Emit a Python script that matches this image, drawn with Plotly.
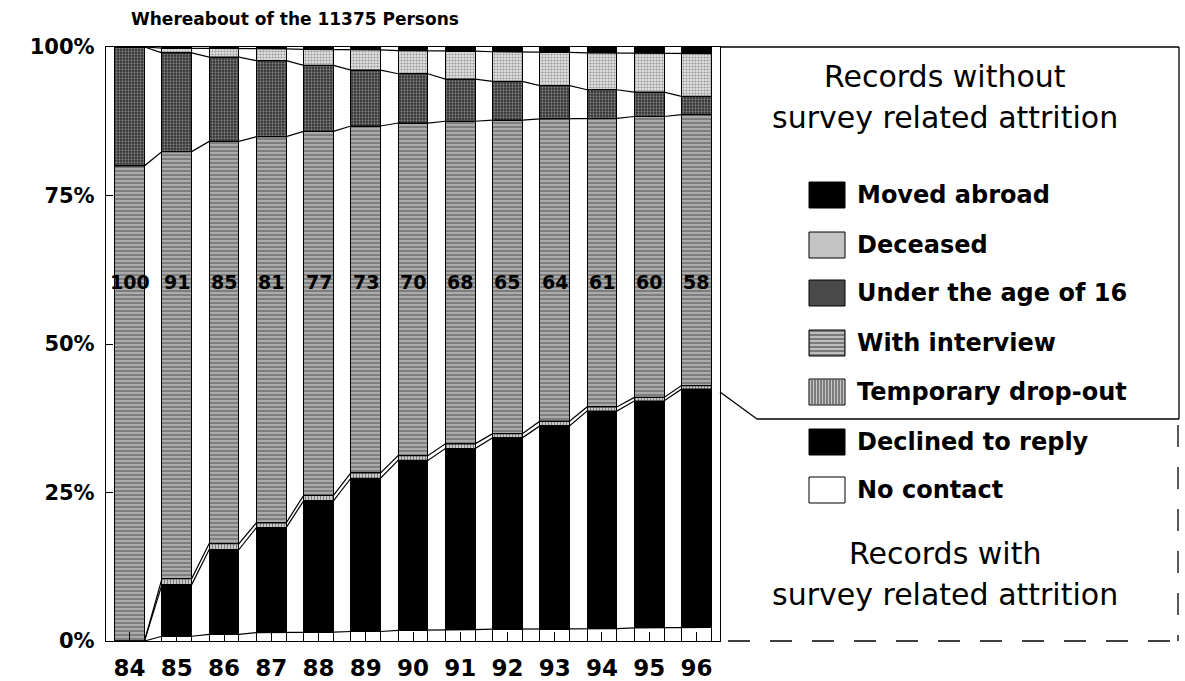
import plotly.graph_objects as go

# ---------------- data ----------------
years = ['84', '85', '86', '87', '88', '89', '90', '91', '92', '93', '94', '95', '96']
no_contact   = [0, 0.8, 1.1, 1.4, 1.5, 1.6, 1.8, 1.9, 2.0, 2.0, 2.1, 2.2, 2.3]
declined     = [0, 8.7, 14.3, 17.7, 22.1, 25.8, 28.6, 30.5, 32.2, 34.2, 36.6, 38.2, 40.1]
temp_dropout = [0, 1.0, 1.0, 0.8, 0.9, 0.9, 0.8, 0.8, 0.7, 0.8, 0.7, 0.6, 0.6]
interview    = [80, 71.9, 67.7, 65.0, 61.3, 58.4, 56.0, 54.3, 52.8, 50.9, 48.6, 47.3, 45.6]
under16      = [20, 16.6, 14.2, 12.8, 11.1, 9.4, 8.3, 7.1, 6.5, 5.6, 4.8, 4.1, 3.1]
deceased     = [0, 0.8, 1.4, 2.0, 2.7, 3.4, 3.9, 4.7, 5.0, 5.6, 6.2, 6.6, 7.2]
moved_abroad = [0, 0.2, 0.3, 0.3, 0.4, 0.5, 0.6, 0.7, 0.8, 0.9, 1.0, 1.0, 1.1]
index_labels = ['100', '91', '85', '81', '77', '73', '70', '68', '65', '64', '61', '60', '58']
y_ticks = [0, 25, 50, 75, 100]
y_ticktext = ['0%', '25%', '50%', '75%', '100%']
title_text = 'Whereabout of the 11375 Persons'
label_y = 60.4

# ---------------- layout geometry (screen pixels) ----------------
W, H = 1185, 681
PL, PR, PT, PB = 106, 720, 47, 641
BOX_R = 1179
BAR_W = 0.63

def px(x):
    return (x - PL) / (PR - PL)

def py(y):
    return (PB - y) / (PB - PT)

series = [
    ('No contact', no_contact, dict(color='white')),
    ('Declined to reply', declined, dict(color='black')),
    ('Temporary drop-out', temp_dropout,
     dict(color='#bbbbbb', pattern=dict(shape='|', fgcolor='#333333', bgcolor='#c8c8c8', size=3, solidity=0.35))),
    ('With interview', interview,
     dict(color='#999999', pattern=dict(shape='-', fgcolor='#ffffff', bgcolor='#7e7e7e', size=4, solidity=0.35))),
    ('Under the age of 16', under16,
     dict(color='#555555', pattern=dict(shape='.', fgcolor='#d0d0d0', bgcolor='#2e2e2e', size=3, solidity=0.45))),
    ('Deceased', deceased,
     dict(color='#bbbbbb', pattern=dict(shape='.', fgcolor='#4a4a4a', bgcolor='#e2e2e2', size=3, solidity=0.4))),
    ('Moved abroad', moved_abroad, dict(color='black')),
]

xs = list(range(len(years)))
fig = go.Figure()
for name, vals, mk in series:
    mk = dict(mk)
    mk['line'] = dict(color='black', width=1)
    fig.add_trace(go.Bar(x=xs, y=vals, name=name, width=BAR_W, marker=mk, showlegend=False))

# series (connector) lines at every cumulative boundary
cum = [0] * len(years)
for name, vals, mk in series[:-1]:
    cum = [c + v for c, v in zip(cum, vals)]
    lx, ly = [], []
    for i, c in enumerate(cum):
        lx += [i - BAR_W / 2, i + BAR_W / 2]
        ly += [c, c]
    fig.add_trace(go.Scatter(x=lx, y=ly, mode='lines', line=dict(color='black', width=1.2),
                             showlegend=False, hoverinfo='skip'))

annotations = []
for i, t in enumerate(index_labels):
    annotations.append(dict(x=i, y=label_y, xref='x', yref='y', text='<b>%s</b>' % t, showarrow=False,
                            xanchor='center', yanchor='middle',
                            font=dict(family='DejaVu Sans', size=19, color='black')))

annotations.append(dict(x=px(295), y=py(19), xref='paper', yref='paper', text='<b>%s</b>' % title_text,
                        showarrow=False, xanchor='center', yanchor='middle',
                        font=dict(family='DejaVu Sans', size=17, color='black')))

for txt, yy in [('Records without', 76), ('survey related attrition', 117),
                ('Records with', 553), ('survey related attrition', 594)]:
    annotations.append(dict(x=px(945), y=py(yy), xref='paper', yref='paper', text=txt, showarrow=False,
                            xanchor='center', yanchor='middle',
                            font=dict(family='DejaVu Sans', size=30, color='black')))

legend_items = [
    ('Moved abroad', 195, 'black', None),
    ('Deceased', 245, '#c4c4c4', None),
    ('Under the age of 16', 293, '#4a4a4a', None),
    ('With interview', 343, '#7a7a7a', 'h'),
    ('Temporary drop-out', 392, '#c8c8c8', 'v'),
    ('Declined to reply', 442, 'black', None),
    ('No contact', 490, 'white', None),
]
SW_L, SW_R = 809, 845
shapes = []
for txt, yc, col, tex in legend_items:
    shapes.append(dict(type='rect', xref='paper', yref='paper', x0=px(SW_L), x1=px(SW_R),
                       y0=py(yc + 13), y1=py(yc - 13), fillcolor=col, line=dict(color='black', width=1)))
    if tex == 'h':
        for k in range(-10, 12, 4):
            shapes.append(dict(type='line', xref='paper', yref='paper', x0=px(SW_L + 1), x1=px(SW_R - 1),
                               y0=py(yc + k), y1=py(yc + k), line=dict(color='white', width=1)))
    elif tex == 'v':
        for k in range(SW_L + 3, SW_R - 1, 3):
            shapes.append(dict(type='line', xref='paper', yref='paper', x0=px(k), x1=px(k),
                               y0=py(yc + 12), y1=py(yc - 12), line=dict(color='#333333', width=1)))
    annotations.append(dict(x=px(855), y=py(yc), xref='paper', yref='paper', xanchor='left', yanchor='middle',
                            text='<b>%s</b>' % txt, showarrow=False,
                            font=dict(family='DejaVu Sans', size=24, color='black')))

solid = dict(color='black', width=1.3)
dashed = dict(color='black', width=1.3, dash='22px,20px')
shapes += [
    dict(type='line', xref='paper', yref='paper', x0=px(PR), x1=px(BOX_R), y0=py(PT), y1=py(PT), line=solid),
    dict(type='line', xref='paper', yref='paper', x0=px(BOX_R), x1=px(BOX_R), y0=py(PT), y1=py(419), line=solid),
    dict(type='line', xref='paper', yref='paper', x0=px(PR), x1=px(757), y0=py(392), y1=py(419), line=solid),
    dict(type='line', xref='paper', yref='paper', x0=px(757), x1=px(BOX_R), y0=py(419), y1=py(419), line=solid),
    dict(type='line', xref='paper', yref='paper', x0=px(BOX_R - 1), x1=px(BOX_R - 1), y0=py(425), y1=py(PB), line=dashed),
    dict(type='line', xref='paper', yref='paper', x0=px(PR + 8), x1=px(BOX_R - 4), y0=0, y1=0, line=dashed),
]

fig.update_layout(
    barmode='stack',
    width=W, height=H,
    margin=dict(l=PL, r=W - PR, t=PT, b=H - PB, pad=0, autoexpand=False),
    paper_bgcolor='white', plot_bgcolor='white',
    showlegend=False,
    annotations=annotations,
    shapes=shapes,
    xaxis=dict(range=[-0.5, len(years) - 0.5], tickvals=xs, ticktext=years, ticks='inside', ticklen=9,
               tickcolor='black', showline=True, linecolor='black', linewidth=1.3, mirror=True,
               showgrid=False, zeroline=False, ticklabelstandoff=6, automargin=False,
               tickfont=dict(family='DejaVu Sans', size=23, color='black', weight='bold')),
    yaxis=dict(range=[0, 100], tickvals=y_ticks, ticktext=y_ticktext, ticks='inside', ticklen=7,
               tickcolor='black', showline=True, linecolor='black', linewidth=1.3, mirror=True,
               showgrid=False, zeroline=False, ticklabelstandoff=6, automargin=False,
               tickfont=dict(family='DejaVu Sans', size=21, color='black', weight='bold')),
)

# remove the default page margin so the figure sits exactly in the 1185x681 window
fig.write_html('out.html', config={'displayModeBar': False},
               post_script="document.body.style.margin='0';document.body.style.overflow='hidden';")
